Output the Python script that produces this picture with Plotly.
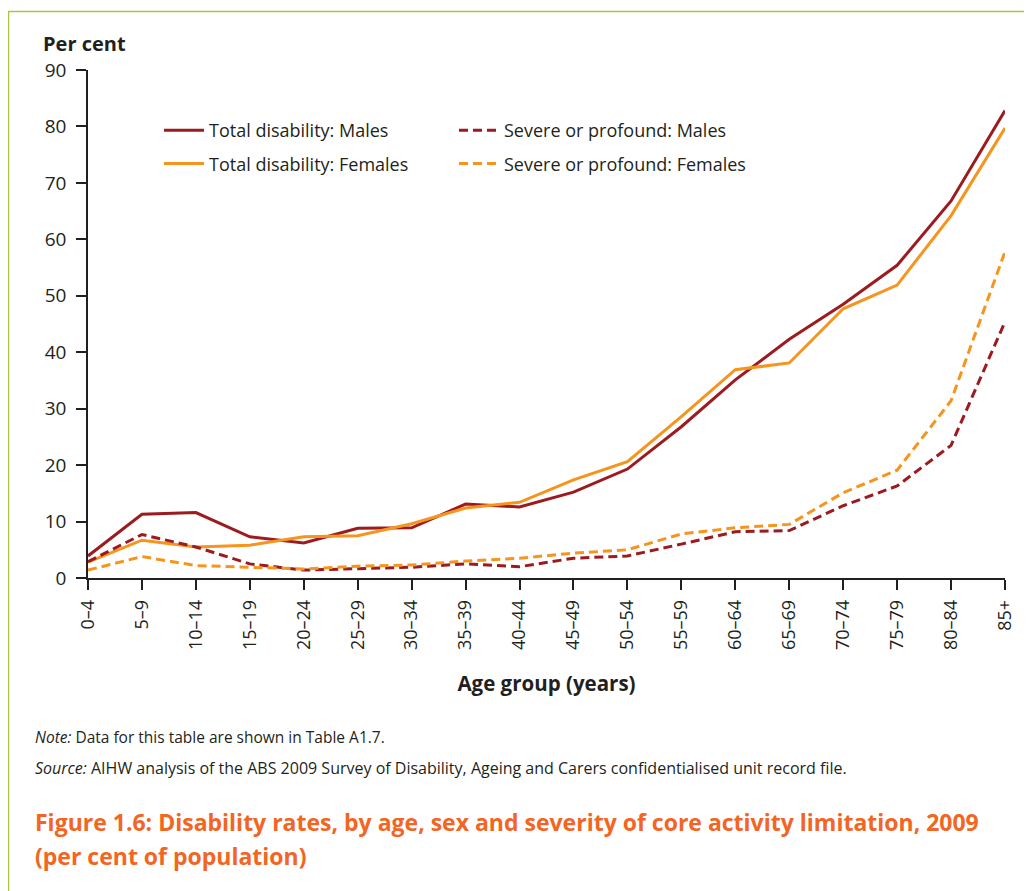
import plotly.graph_objects as go

age_groups = ["0–4", "5–9", "10–14", "15–19", "20–24", "25–29", "30–34", "35–39",
              "40–44", "45–49", "50–54", "55–59", "60–64", "65–69", "70–74",
              "75–79", "80–84", "85+"]
total_males = [3.9, 11.3, 11.6, 7.3, 6.2, 8.8, 8.9, 13.1, 12.6, 15.2, 19.3, 26.8,
               35.1, 42.3, 48.5, 55.4, 66.8, 82.8]
total_females = [2.8, 6.7, 5.5, 5.8, 7.3, 7.5, 9.6, 12.4, 13.4, 17.4, 20.6, 28.6,
                 36.9, 38.1, 47.7, 51.9, 64.2, 79.7]
severe_males = [2.9, 7.7, 5.5, 2.5, 1.4, 1.7, 1.9, 2.5, 2.0, 3.5, 3.9, 6.0,
                8.2, 8.4, 12.8, 16.3, 23.5, 45.4]
severe_females = [1.4, 3.8, 2.2, 1.9, 1.6, 2.1, 2.3, 3.0, 3.5, 4.4, 5.0, 7.8,
                  8.9, 9.5, 15.1, 19.1, 31.4, 57.8]

DARK = "#9b1b1f"
ORANGE = "#f7941d"
INK = "#231f20"
FONT = "Open Sans, Noto Sans, sans-serif"
DASH = "9px,5px"

x = list(range(len(age_groups)))
fig = go.Figure()
fig.add_trace(go.Scatter(x=x, y=total_males, mode="lines", name="Total disability: Males",
                         line=dict(color=DARK, width=3), legend="legend", legendgroup="a"))
fig.add_trace(go.Scatter(x=x, y=total_females, mode="lines", name="Total disability: Females",
                         line=dict(color=ORANGE, width=3), legend="legend", legendgroup="b"))
fig.add_trace(go.Scatter(x=x, y=severe_males, mode="lines", name="Severe or profound: Males",
                         line=dict(color=DARK, width=3, dash=DASH), legend="legend2", legendgroup="c"))
fig.add_trace(go.Scatter(x=x, y=severe_females, mode="lines", name="Severe or profound: Females",
                         line=dict(color=ORANGE, width=3, dash=DASH), legend="legend2", legendgroup="d"))

# page offset (body margin) of 8px
OFF = 8
W, H = 1032 - OFF, 891 - OFF
PL, PR, PT, PB = 88, 1005, 70, 578   # plot area in page pixels
L, T = PL - OFF, PT - OFF
R = W - (PR - OFF)
B = H - (PB - OFF)
pw, ph = PR - PL, PB - PT

def px(xp):
    return (xp - PL) / pw

def py(yp):
    return (PB - yp) / ph

legend_common = dict(font=dict(family=FONT, size=18, color=INK), bgcolor="rgba(0,0,0,0)",
                     xanchor="left", yanchor="top", itemwidth=40, tracegroupgap=7,
                     orientation="v")
fig.update_layout(
    width=W, height=H,
    margin=dict(l=L, r=R, t=T, b=B),
    paper_bgcolor="white", plot_bgcolor="white",
    font=dict(family=FONT, color=INK),
    showlegend=True,
    legend=dict(x=px(159), y=py(112), **legend_common),
    legend2=dict(x=px(454), y=py(112), **legend_common),
    xaxis=dict(range=[0, len(age_groups) - 1], tickmode="array", tickvals=x, ticktext=age_groups,
               tickangle=-90, ticks="outside", ticklen=10, tickwidth=1.5, tickcolor=INK,
               showline=True, linecolor=INK, linewidth=1.5, showgrid=False, zeroline=False,
               ticklabelstandoff=3,
               tickfont=dict(family=FONT, size=18, color=INK),
               title=dict(text="<b>Age group (years)</b>", font=dict(family=FONT, size=20.5, color=INK),
                          standoff=28)),
    yaxis=dict(range=[0, 90], dtick=10, ticks="outside", ticklen=10, tickwidth=1.5, tickcolor=INK,
               showline=True, linecolor=INK, linewidth=1.5, showgrid=False, zeroline=False,
               ticklabelstandoff=6,
               tickfont=dict(family=FONT, size=19, color=INK)),
)

annotations = [
    dict(text="<b>Per cent</b>", x=px(41), y=py(43), xanchor="left", yanchor="middle",
         font=dict(family=FONT, size=20, color=INK)),
    dict(text="<i>Note:</i> Data for this table are shown in Table A1.7.", x=px(33), y=py(737),
         xanchor="left", yanchor="middle", font=dict(family=FONT, size=15.5, color=INK)),
    dict(text="<i>Source:</i> AIHW analysis of the ABS 2009 Survey of Disability, Ageing and Carers confidentialised unit record file.",
         x=px(33), y=py(768), xanchor="left", yanchor="middle",
         font=dict(family=FONT, size=16, color=INK)),
    dict(text="<b>Figure 1.6: Disability rates, by age, sex and severity of core activity limitation, 2009</b>",
         x=px(33), y=py(822), xanchor="left", yanchor="middle",
         font=dict(family=FONT, size=23, color="#f26522")),
    dict(text="<b>(per cent of population)</b>",
         x=px(33), y=py(856), xanchor="left", yanchor="middle",
         font=dict(family=FONT, size=23, color="#f26522")),
]
for a in annotations:
    a.update(xref="paper", yref="paper", showarrow=False)
fig.update_layout(annotations=annotations)

fig.add_shape(type="rect", xref="paper", yref="paper",
              x0=px(8.5), x1=px(1045), y0=py(910), y1=py(11.5),
              line=dict(color="#a8c545", width=1.5), fillcolor="rgba(0,0,0,0)", layer="below")

fig.write_html("out.html")
